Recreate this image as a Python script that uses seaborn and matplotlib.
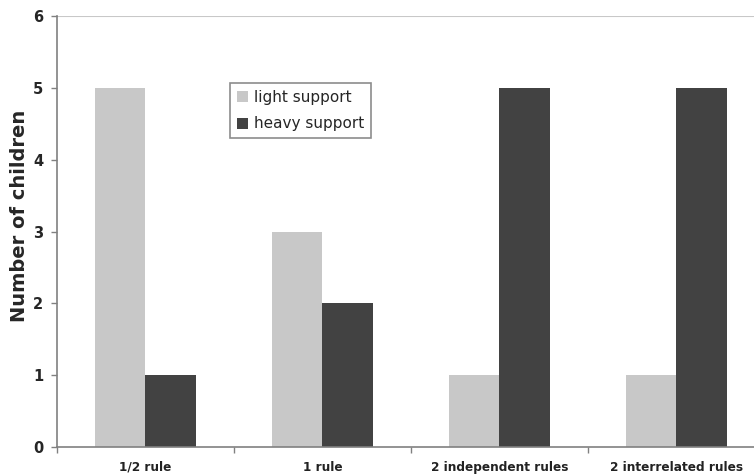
import matplotlib
matplotlib.use("Agg")
import matplotlib.pyplot as plt
import seaborn as sns
import pandas as pd
import numpy as np

categories = ["1/2 rule", "1 rule", "2 independent rules", "2 interrelated rules"]
light_support = [5, 3, 1, 1]
heavy_support = [1, 2, 5, 5]
series_names = ["light support", "heavy support"]
colors = ["#c8c8c8", "#424242"]

df = pd.DataFrame({
    "category": categories * 2,
    "value": light_support + heavy_support,
    "series": [series_names[0]] * 4 + [series_names[1]] * 4,
})

sns.set_style("white")
plt.rcParams['font.family'] = ['DejaVu Sans']

fig = plt.figure(figsize=(7.54, 4.75), dpi=100)
ax = fig.add_axes([0.0756, 0.059, 0.9244, 0.907])

sns.barplot(data=df, x="category", y="value", hue="series", order=categories,
            hue_order=series_names, palette=colors, width=0.57, saturation=1,
            edgecolor="none", ax=ax)

ax.set_ylim(0, 6)
ax.set_xlim(-0.5, 3.44)
ax.set_yticks(range(0, 7))
ax.set_yticklabels([str(i) for i in range(0, 7)], fontsize=10.5, fontweight="bold")
ax.tick_params(axis="y", length=4, width=1, color="#808080", direction="out", left=True, pad=6)
ax.tick_params(axis="x", length=0, labelsize=8.7, pad=10)
for lbl in ax.get_xticklabels():
    lbl.set_fontweight("bold")
    lbl.set_color("#222222")
ax.set_xticks(np.arange(-0.5, 3.5, 1.0), minor=True)
ax.tick_params(axis="x", which="minor", length=4, width=1, color="#808080", bottom=True, direction="out")

ax.axhline(6, color="#c8c8c8", lw=1.5, zorder=0)
for s in ["top", "right"]:
    ax.spines[s].set_visible(False)
ax.spines["left"].set_color("#808080")
ax.spines["bottom"].set_color("#808080")
ax.spines["left"].set_linewidth(1.2)
ax.spines["bottom"].set_linewidth(1.2)

ax.set_xlabel("")
ax.set_ylabel("Number of children", fontsize=14, fontweight="bold")
ax.yaxis.set_label_coords(-0.040, 0.536)

leg = ax.legend(loc="upper left", bbox_to_anchor=(0.248, 0.8445), frameon=True,
                fancybox=False, edgecolor="#707070", fontsize=11,
                handlelength=0.75, handleheight=0.75, handletextpad=0.35,
                borderpad=0.45, labelspacing=0.75, borderaxespad=0)
leg.get_frame().set_linewidth(1.2)

fig.savefig("out.png", dpi=100)
